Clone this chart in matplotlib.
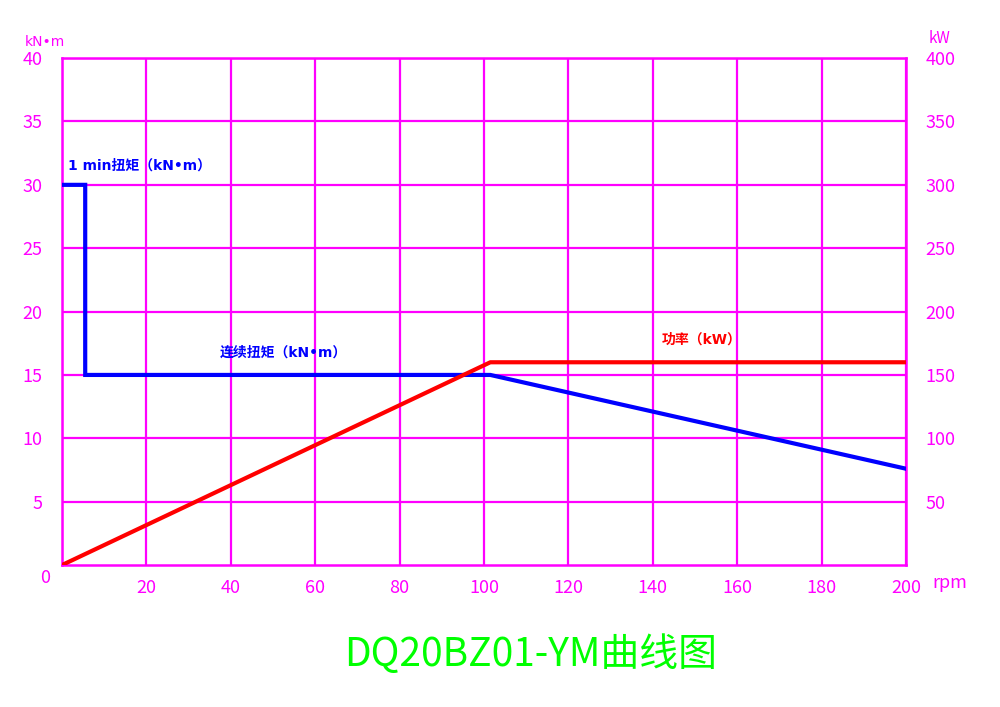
import matplotlib
matplotlib.use("Agg")
import matplotlib.pyplot as plt

plt.rcParams['font.family'] = ['Noto Sans CJK SC', 'DejaVu Sans']

# speed (rpm) vs torque (kN·m) and power (kW)
torque_rpm = [0, 5.5, 5.5, 101.5, 200]
torque_knm = [30, 30, 15, 15, 7.6]
power_rpm = [0, 101.5, 200]
power_kw = [0, 160, 160]

x_ticks = [20, 40, 60, 80, 100, 120, 140, 160, 180, 200]
y_ticks = [5, 10, 15, 20, 25, 30, 35, 40]
y2_ticks = [50, 100, 150, 200, 250, 300, 350, 400]

mag = "#ff00ff"
lat = ['DejaVu Sans', 'Noto Sans CJK SC']

fig = plt.figure(figsize=(10, 7.07), dpi=100)
ax = fig.add_axes([0.062, 0.2008, 0.844, 0.717])
ax.set_xlim(0, 200)
ax.set_ylim(0, 40)
ax.set_yticks(y_ticks)
ax.set_xticks([0] + x_ticks)
ax.set_xticklabels([""] + [str(v) for v in x_ticks])
ax.grid(True, color=mag, lw=1.6)
for s in ax.spines.values():
    s.set_color(mag)
    s.set_linewidth(1.8)
ax.tick_params(colors=mag, length=0, labelsize=13, pad=10)
ax.tick_params(axis="y", pad=14)

ax2 = ax.twinx()
ax2.set_ylim(0, 400)
ax2.set_yticks(y2_ticks)
ax2.tick_params(colors=mag, length=0, labelsize=13, pad=14)
for s in ax2.spines.values():
    s.set_visible(False)

ax.plot(torque_rpm, torque_knm, color="#0000ff", lw=3, solid_joinstyle="miter", zorder=3)
ax2.plot(power_rpm, power_kw, color="#ff0000", lw=3, zorder=4)

fig.text(0.045, 0.182, "0", color=mag, fontsize=13, ha="center", va="center")
fig.text(0.045, 0.94, "kN•m", color=mag, fontsize=10, family=lat, ha="center", va="center")
fig.text(0.939, 0.946, "kW", color=mag, fontsize=11, ha="center", va="center")
fig.text(0.95, 0.176, "rpm", color=mag, fontsize=13, ha="center", va="center")

ax.text(1.5, 31.55, "1 min扭矩（kN•m）", color="#0000ff", fontsize=10, fontweight="bold",
        family=lat, va="center")
ax.text(37.3, 16.8, "连续扭矩（kN•m）", color="#0000ff", fontsize=10, fontweight="bold",
        family=lat, va="center")
ax.text(142.2, 17.75, "功率（kW）", color="#ff0000", fontsize=10, fontweight="bold",
        family=lat, va="center")

fig.text(0.531, 0.073, "DQ20BZ01-YM曲线图", color="#00ff00", fontsize=28,
         ha="center", va="center")

fig.savefig("out.png", dpi=100)
